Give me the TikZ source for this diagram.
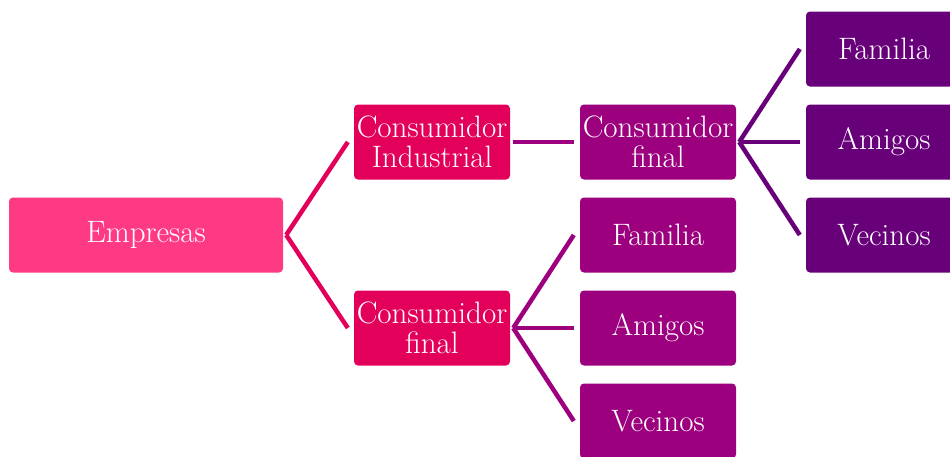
\documentclass[tikz,border=0pt]{standalone}
\usetikzlibrary{calc}
\definecolor{rootpink}{RGB}{255,58,133}
\definecolor{lvlone}{RGB}{227,0,90}
\definecolor{lvltwo}{RGB}{156,0,126}
\definecolor{lvlthree}{RGB}{104,0,122}
\begin{document}
\begin{tikzpicture}[x=1pt,y=-1pt,
  box/.style={rectangle, rounded corners=4pt, draw=none, text=white,
    minimum width=156pt, minimum height=75pt, inner sep=0pt, align=center,
    font=\fontsize{31}{30}\selectfont},
  link/.style={line width=4.5pt}]
\useasboundingbox (0,0) rectangle (950,456);
\clip (0,0) rectangle (950,456);
% root
\node[box, fill=rootpink, minimum width=274pt] (emp) at (146,235) {Empresas};
% first level
\node[box, fill=lvlone] (ci) at (432,142) {Consumidor\\Industrial};
\node[box, fill=lvlone] (cf) at (432,328) {Consumidor\\final};
% second level
\node[box, fill=lvltwo] (cf2) at (658,142) {Consumidor\\final};
\node[box, fill=lvltwo] (fam2) at (658,235) {Familia};
\node[box, fill=lvltwo] (ami2) at (658,328) {Amigos};
\node[box, fill=lvltwo] (vec2) at (658,421) {Vecinos};
% third level
\node[box, fill=lvlthree] (fam3) at (884,49) {Familia};
\node[box, fill=lvlthree] (ami3) at (884,142) {Amigos};
\node[box, fill=lvlthree] (vec3) at (884,235) {Vecinos};
% connectors
\foreach \a/\b/\c in {emp/ci/lvlone, emp/cf/lvlone,
    ci/cf2/lvltwo, cf/fam2/lvltwo, cf/ami2/lvltwo, cf/vec2/lvltwo,
    cf2/fam3/lvlthree, cf2/ami3/lvlthree, cf2/vec3/lvlthree}
  \draw[link, draw=\c] ([xshift=3pt]\a.east) -- ([xshift=-6pt]\b.west);
\end{tikzpicture}
\end{document}
